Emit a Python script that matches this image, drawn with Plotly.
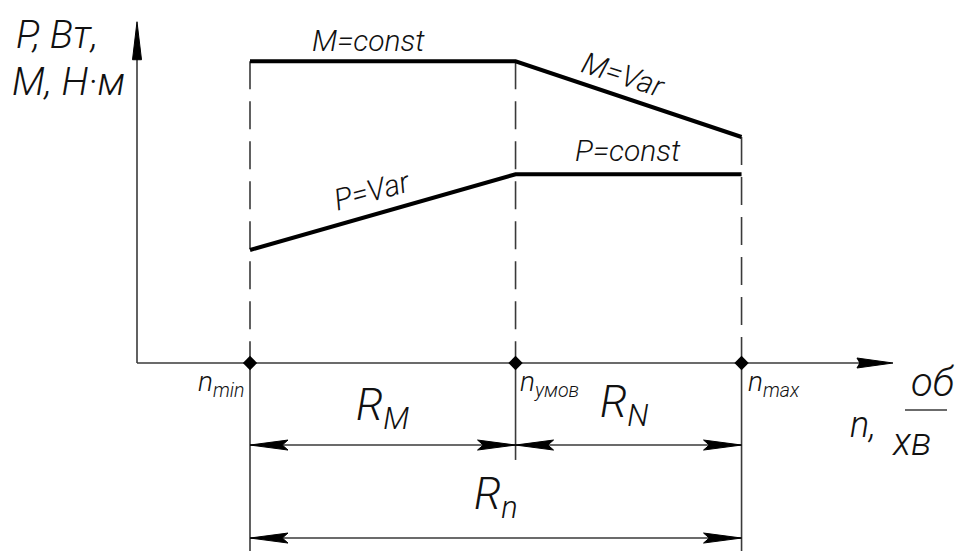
import plotly.graph_objects as go

# ---- data (diagram units) ----
n_names = ["n<sub>min</sub>", "n<sub>умов</sub>", "n<sub>max</sub>"]
n_points = [1.0, 3.35, 5.35]          # n_min, n_умов, n_max
M_values = [2.67, 2.67, 2.0]          # M = const, then M = Var
P_values = [1.0, 1.67, 1.67]          # P = Var, then P = const
curve_labels = ["M=const", "M=Var", "P=Var", "P=const"]
range_labels = ["R<sub>M</sub>", "R<sub>N</sub>", "R<sub>n</sub>"]
y_axis_title = ["P, Вт,", "M, Н·м"]
x_axis_title = ["n,", "об", "хв"]

# ---- layout constants ----
W, H = 963, 551
OFF = 8                        # page body offset
PX = 113.0                     # pixels per diagram unit
X0, Y0 = 137, 363              # screenshot pixel position of origin
xr = [-(X0 - OFF) / PX, (W - (X0 - OFF)) / PX]
yr = [(Y0 - OFF - H) / PX, (Y0 - OFF) / PX]
Y_TOP = 3.02
X_END = 6.69
DIM1 = -0.726
DIM2 = -1.549
UMOV_BOTTOM = -0.858

THIN = "#3a3a3a"
FONT = dict(family="Roboto, DejaVu Sans, sans-serif", color="#111",
            style="italic", weight=300)

fig = go.Figure()


def seg(x, y, color=THIN, width=1.6, dash=None):
    fig.add_trace(go.Scatter(x=x, y=y, mode="lines", hoverinfo="skip",
                             line=dict(color=color, width=width, dash=dash)))


def arrow(tx, ty, dx, dy, L=36, w=10, notch=0.85, color="#000"):
    L, w = L / PX, w / PX
    bx, by = tx - dx * L, ty - dy * L
    nx, ny = tx - dx * L * notch, ty - dy * L * notch
    px_, py_ = -dy, dx
    xs = [tx, bx + px_ * w / 2, nx, bx - px_ * w / 2, tx]
    ys = [ty, by + py_ * w / 2, ny, by - py_ * w / 2, ty]
    fig.add_trace(go.Scatter(x=xs, y=ys, mode="lines", fill="toself",
                             fillcolor=color, line=dict(color=color, width=1),
                             hoverinfo="skip"))


# axes
seg([0, 0], [0, Y_TOP - 0.2])
arrow(0, Y_TOP, 0, 1, L=38, w=9, notch=1.0)
seg([0, X_END - 0.2], [0, 0])
arrow(X_END, 0, 1, 0, L=36, w=10, notch=0.92)

# verticals (dashed above axis, solid below)
tops = [M_values[0], M_values[1], M_values[2]]
bottoms = [yr[0], UMOV_BOTTOM, yr[0]]
for xv, top, bot in zip(n_points, tops, bottoms):
    seg([xv, xv], [top, 0], width=1.6, dash="28px,12px")
    seg([xv, xv], [0, bot], width=1.6)

# curves
seg(n_points, M_values, color="#000", width=4)
seg(n_points, P_values, color="#000", width=4)

# diamonds at axis
fig.add_trace(go.Scatter(x=n_points, y=[0, 0, 0], mode="markers", hoverinfo="skip",
                         marker=dict(symbol="diamond", size=11, color="#000")))

# dimension lines
seg([n_points[0], n_points[1]], [DIM1, DIM1])
seg([n_points[1], n_points[2]], [DIM1, DIM1])
seg([n_points[0], n_points[2]], [DIM2, DIM2])
for a, b, lvl in [(n_points[0], n_points[1], DIM1), (n_points[1], n_points[2], DIM1),
                  (n_points[0], n_points[2], DIM2)]:
    arrow(a, lvl, -1, 0, L=38, w=10)
    arrow(b, lvl, 1, 0, L=38, w=10)

ann = []


def text(x, y, s, size, angle=0, xanchor="center", yanchor="middle"):
    ann.append(dict(x=x, y=y, xref="x", yref="y", text=s, showarrow=False,
                    font=dict(size=size, **FONT), textangle=angle,
                    xanchor=xanchor, yanchor=yanchor))


def px2x(p):
    return (p - X0) / PX


def px2y(p):
    return (Y0 - p) / PX


# curve labels
text(px2x(368), px2y(40), curve_labels[0], 30)
text(px2x(623), px2y(74), curve_labels[1], 30, angle=18)
text(px2x(372), px2y(190), curve_labels[2], 30, angle=-15)
text(px2x(628), px2y(150), curve_labels[3], 30)

# y-axis title
text(px2x(14), px2y(35), y_axis_title[0], 39, xanchor="left")
text(px2x(10), px2y(82), y_axis_title[1], 39, xanchor="left")

# n labels
text(n_points[0] - 0.03, px2y(383), n_names[0], 28, xanchor="right")
text(n_points[1] + 0.02, px2y(383), n_names[1], 28, xanchor="left")
text(n_points[2] + 0.04, px2y(383), n_names[2], 28, xanchor="left")

# range labels
text((n_points[0] + n_points[1]) / 2, px2y(408), range_labels[0], 44)
text(px2x(624), px2y(405), range_labels[1], 44)
text((n_points[0] + n_points[2]) / 2, px2y(497), range_labels[2], 44)

# x-axis title with fraction
text(px2x(863), px2y(425), x_axis_title[0], 36)
text(px2x(933), px2y(382), x_axis_title[1], 40)
text(px2x(912), px2y(442), x_axis_title[2], 38)

fig.add_shape(type="line", xref="x", yref="y", x0=px2x(905), x1=px2x(947),
              y0=px2y(410), y1=px2y(410), line=dict(color=THIN, width=1.5))

fig.update_layout(
    width=W, height=H, margin=dict(l=0, r=0, t=0, b=0),
    paper_bgcolor="white", plot_bgcolor="white", showlegend=False,
    xaxis=dict(range=xr, visible=False, fixedrange=True),
    yaxis=dict(range=yr, visible=False, fixedrange=True),
    annotations=ann,
)

fig.write_html("out.html")
